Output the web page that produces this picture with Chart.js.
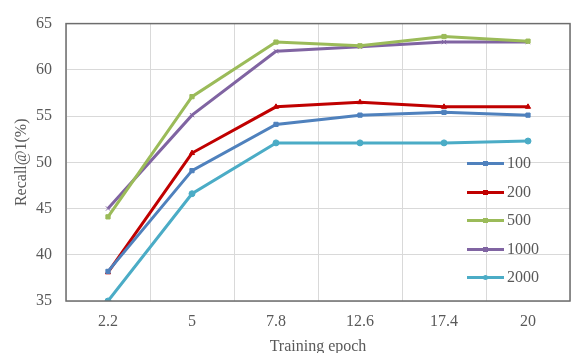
<!DOCTYPE html>
<html>
<head>
<meta charset="utf-8">
<script src="https://cdn.jsdelivr.net/npm/chart.js@4.4.1/dist/chart.umd.min.js"></script>
<style>
  body { margin: 0; background: #fff; }
  #wrap { position: relative; width: 575px; height: 353px; }
  #legend { position: absolute; left: 467px; top: 150px; font-family: "Liberation Serif", serif; font-size: 16px; color: #595959; }
  .item { position: relative; height: 28.6px; }
  .swatch { position: absolute; left: 0; top: 12px; width: 37px; height: 3px; }
  .dot { position: absolute; left: 16px; top: 11px; width: 5px; height: 5px; }
  .txt { position: absolute; left: 40px; top: 4px; line-height: 18px; }
</style>
</head>
<body>
<div id="wrap">
  <canvas id="recallChart"></canvas>
  <div id="legend"></div>
</div>
<script>
// Data
const epochs = ["2.2", "5", "7.8", "12.6", "17.4", "20"];
const seriesNames = ["100", "200", "500", "1000", "2000"];
const recall100 = [38.2, 49.1, 54.1, 55.1, 55.4, 55.1];
const recall200 = [38.1, 51.0, 56.0, 56.5, 56.0, 56.0];
const recall500 = [44.1, 57.1, 63.0, 62.6, 63.6, 63.1];
const recall1000 = [45.0, 55.1, 62.0, 62.5, 63.0, 63.0];
const recall2000 = [35.0, 46.6, 52.1, 52.1, 52.1, 52.3];
const yTicks = [35, 40, 45, 50, 55, 60, 65];

const colors = ["#4f81bd", "#c00000", "#9bbb59", "#8064a2", "#4bacc6"];
const markers = ["rect", "triangle", "rect", "crossRot", "circle"];
const allValues = [recall100, recall200, recall500, recall1000, recall2000];

const datasets = seriesNames.map((name, i) => ({
  label: name,
  data: allValues[i],
  borderColor: colors[i],
  backgroundColor: colors[i],
  borderWidth: 3,
  pointStyle: markers[i],
  pointRadius: 3,
  pointBorderWidth: 1,
  tension: 0,
  fill: false,
}));

// frame around the plot area
const frame = {
  id: "frame",
  afterDraw(chart) {
    const { ctx, chartArea: a } = chart;
    ctx.save();
    ctx.strokeStyle = "#6d6d6d";
    ctx.lineWidth = 1.5;
    ctx.strokeRect(a.left, a.top, a.right - a.left, a.bottom - a.top);
    ctx.restore();
  },
};

const font = { family: "Liberation Serif", size: 16 };

const ctx = document.getElementById("recallChart").getContext("2d");
const recallChart = new Chart(ctx, {
  type: "line",
  data: { labels: epochs, datasets: datasets },
  options: {
    responsive: true,
    maintainAspectRatio: false,
    animation: false,
    layout: { padding: { top: 14, right: 2, left: 0, bottom: 0 } },
    plugins: {
      legend: { display: false },
      tooltip: { enabled: false },
    },
    scales: {
      x: {
        offset: true,
        grid: { offset: true, color: "#d9d9d9", drawTicks: false },
        border: { display: false },
        ticks: { color: "#595959", font: font, padding: 11 },
        title: {
          display: true,
          text: "Training epoch",
          color: "#595959",
          font: { family: "Liberation Serif", size: 16, lineHeight: 1 },
          padding: { top: 0, bottom: -2 },
        },
        afterFit(scale) { scale.height = 52; },
      },
      y: {
        min: yTicks[0],
        max: yTicks[yTicks.length - 1],
        afterBuildTicks(scale) { scale.ticks = yTicks.map((v) => ({ value: v })); },
        grid: { color: "#d9d9d9", drawTicks: false },
        border: { display: false },
        ticks: { color: "#595959", font: font, padding: 14 },
        title: {
          display: true,
          text: "Recall@1(%)",
          color: "#595959",
          font: { family: "Liberation Serif", size: 16, lineHeight: 1 },
          padding: { top: 14, bottom: 0 },
        },
        afterFit(scale) { scale.width = 66; },
      },
    },
  },
  plugins: [frame],
});

// Legend inside plot
const legend = document.getElementById("legend");
seriesNames.forEach((name, i) => {
  const item = document.createElement("div");
  item.className = "item";
  const dotStyle = markers[i] === "circle" ? "border-radius:50%;" : "";
  item.innerHTML =
    '<div class="swatch" style="background:' + colors[i] + '"></div>' +
    '<div class="dot" style="background:' + colors[i] + ";" + dotStyle + '"></div>' +
    '<span class="txt">' + name + "</span>";
  legend.appendChild(item);
});
</script>
</body>
</html>
